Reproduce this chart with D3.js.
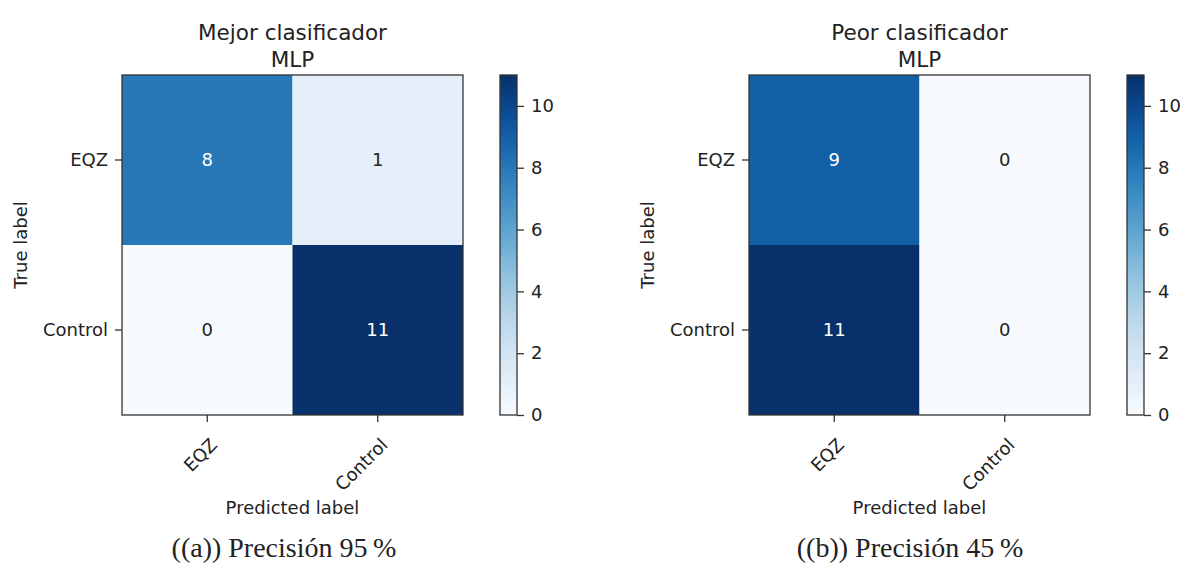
<html>
<head>
<script src="https://d3js.org/d3.v7.min.js"></script>
<style>
  body { margin:0; background:#fff; }
  text { font-family: "DejaVu Sans", sans-serif; fill:#222; }
  .caption { font-family: "Liberation Serif", "DejaVu Serif", serif; }
</style>
</head>
<body>
<svg id="chart" width="1181" height="565"></svg>
<script>
const classes = ["EQZ", "Control"];
const mejorMatrix = [[8, 1], [0, 11]];
const peorMatrix = [[9, 0], [11, 0]];
const colorbarTicks = [0, 2, 4, 6, 8, 10];
const titles = [["Mejor clasificador", "MLP"], ["Peor clasificador", "MLP"]];
const captions = ["((a)) Precisión 95\u2009%", "((b)) Precisión 45\u2009%"];

const svg = d3.select("#chart");
const color = d3.scaleSequential(d3.interpolateBlues).domain([0, 11]);

// one gradient for both colorbars
const grad = svg.append("defs").append("linearGradient")
    .attr("id", "blues").attr("x1", 0).attr("x2", 0).attr("y1", 1).attr("y2", 0);
d3.range(0, 1.0001, 0.05).forEach(t => {
    grad.append("stop").attr("offset", t).attr("stop-color", d3.interpolateBlues(t));
});

function drawPanel(left, matrix, title, caption, captionX) {
    const g = svg.append("g");
    const top = 75, size = 341, bottom = top + 340;

    const x = d3.scaleBand().domain(classes).range([left, left + size]);
    const y = d3.scaleBand().domain(classes).range([top, bottom]);

    // cells
    const cells = [];
    matrix.forEach((row, i) => row.forEach((v, j) => cells.push({r: classes[i], c: classes[j], v: v})));
    const thresh = d3.max(cells, d => d.v) / 2;

    g.selectAll("rect.cell").data(cells).join("rect")
        .attr("class", "cell")
        .attr("x", d => x(d.c)).attr("y", d => y(d.r))
        .attr("width", x.bandwidth()).attr("height", y.bandwidth())
        .attr("fill", d => color(d.v));

    g.selectAll("text.val").data(cells).join("text")
        .attr("class", "val")
        .attr("x", d => x(d.c) + x.bandwidth() / 2)
        .attr("y", d => y(d.r) + y.bandwidth() / 2)
        .attr("dy", "0.36em")
        .attr("text-anchor", "middle")
        .style("font-size", "18px")
        .style("fill", d => d.v > thresh ? "#fff" : "#222")
        .text(d => d.v);

    g.append("rect")
        .attr("x", left).attr("y", top).attr("width", size).attr("height", bottom - top)
        .attr("fill", "none").attr("stroke", "#333").attr("stroke-width", 1.3);

    // y axis
    const yAxis = g.append("g").attr("transform", `translate(${left},0)`)
        .call(d3.axisLeft(y).tickSize(7).tickPadding(7));
    yAxis.select(".domain").remove();
    yAxis.selectAll("line").attr("stroke", "#333").attr("stroke-width", 1.3);
    yAxis.selectAll("text").style("font-size", "18px").style("font-family", "DejaVu Sans").attr("fill", "#222");

    // x axis with rotated labels
    const xAxis = g.append("g").attr("transform", `translate(0,${bottom})`)
        .call(d3.axisBottom(x).tickSize(7).tickPadding(7));
    xAxis.select(".domain").remove();
    xAxis.selectAll("line").attr("stroke", "#333").attr("stroke-width", 1.3);
    xAxis.selectAll("text")
        .style("font-size", "18px").style("font-family", "DejaVu Sans").attr("fill", "#222")
        .attr("y", 0).attr("x", 0).attr("dy", "0.71em")
        .attr("text-anchor", "end")
        .attr("transform", "translate(2,22) rotate(-45)");

    // titles
    g.append("text").attr("x", left + size / 2).attr("y", 40)
        .attr("text-anchor", "middle").style("font-size", "21.5px").text(title[0]);
    g.append("text").attr("x", left + size / 2).attr("y", 67)
        .attr("text-anchor", "middle").style("font-size", "21.5px").text(title[1]);

    // axis labels
    g.append("text").attr("x", left + size / 2).attr("y", 514)
        .attr("text-anchor", "middle").style("font-size", "18px").text("Predicted label");
    g.append("text")
        .attr("transform", `translate(${left - 101},${(top + bottom) / 2}) rotate(-90)`)
        .attr("text-anchor", "middle").attr("dy", "0.36em")
        .style("font-size", "18px").text("True label");

    // colorbar
    const cbX = left + size + 37, cbW = 17;
    const cb = d3.scaleLinear().domain([0, 11]).range([bottom, top]);
    g.append("rect").attr("x", cbX).attr("y", top).attr("width", cbW).attr("height", bottom - top)
        .attr("fill", "url(#blues)").attr("stroke", "#333").attr("stroke-width", 1.3);
    const cbAxis = g.append("g").attr("transform", `translate(${cbX + cbW},0)`)
        .call(d3.axisRight(cb).tickValues(colorbarTicks).tickSize(7).tickPadding(7));
    cbAxis.select(".domain").remove();
    cbAxis.selectAll("line").attr("stroke", "#333").attr("stroke-width", 1.3);
    cbAxis.selectAll("text").style("font-size", "18px").style("font-family", "DejaVu Sans").attr("fill", "#222");

    // caption
    g.append("text").attr("class", "caption")
        .attr("x", captionX).attr("y", 557)
        .attr("text-anchor", "middle").style("font-size", "28px").text(caption);
}

drawPanel(122, mejorMatrix, titles[0], captions[0], 284);
drawPanel(749, peorMatrix, titles[1], captions[1], 910);
</script>
</body>
</html>
